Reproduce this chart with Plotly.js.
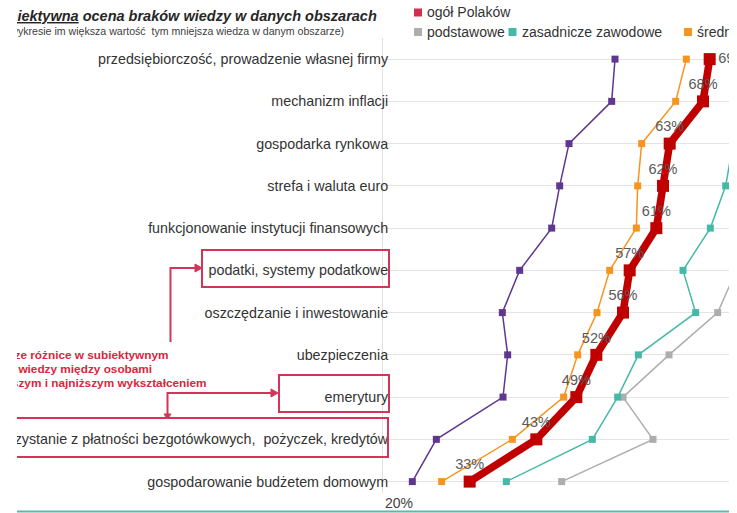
<!DOCTYPE html>
<html><head><meta charset="utf-8">
<script src="https://cdn.plot.ly/plotly-3.0.1.min.js"></script>
<style>
html,body{margin:0;padding:0;background:#fff;overflow:hidden}
#chart{width:737px;height:513px;clip-path:inset(0px 8px 0px 17px);}
</style></head><body><div id="chart"></div>
<script>
// ---- data ----
const categories = [
  'przedsiębiorczość, prowadzenie własnej firmy',
  'mechanizm inflacji',
  'gospodarka rynkowa',
  'strefa i waluta euro',
  'funkcjonowanie instytucji finansowych',
  'podatki, systemy podatkowe',
  'oszczędzanie i inwestowanie',
  'ubezpieczenia',
  'emerytury',
  'korzystanie z płatności bezgotówkowych,  pożyczek, kredytów',
  'gospodarowanie budżetem domowym'
];
const seriesNames = ['ogół Polaków', 'podstawowe', 'zasadnicze zawodowe', 'średnie', 'wyższe'];
const ogolPolakow        = [69, 68, 63, 62, 61, 57, 56, 52, 49, 43, 33];
const podstawowe         = [80, 79, 77, 76, 75, 73, 70.2, 62.9, 56.0, 60.5, 46.8];
const zasadniczeZawodowe = [75, 74, 72.5, 71.4, 69.1, 65.0, 66.9, 58.3, 55.2, 51.4, 38.5];
const srednie            = [65.5, 63.9, 58.8, 58.2, 58.0, 54.0, 52.1, 49.2, 47.1, 39.4, 28.8];
const wyzsze             = [54.8, 54.3, 47.9, 46.5, 45.3, 40.5, 37.9, 38.7, 38.0, 28.0, 24.4];
const ogolLabels = ogolPolakow.map(v => v + '%');
const xTickVals = [20];
const xTickText = ['20%'];
const titleText = 'Subiektywna';
const titleRest = 'ocena braków wiedzy w danych obszarach';
const subtitleText = '(na wykresie im większa wartość  tym mniejsza wiedza w danym obszarze)';
const noteLines = ['Największe różnice w subiektywnym', 'poziomie wiedzy między osobami', 'z najwyższym i najniższym wykształceniem'];

// ---- geometry (page px) ----
const W = 737, H = 513, L = 383, R = 729, T = 38, B = 493;
const xp = px => (px - L) / (R - L);
const yp = py => (B - py) / (B - T);
const FONT = 'Liberation Sans, Arial, sans-serif';

const colors = {
  ogol: '#C00000', podst: '#ADADAD', zasad: '#45B9A8', sred: '#F7941D', wyz: '#60378F',
  legendOgol: '#D12F4E', accent: '#D23558', note: '#D9263D', teal: '#5DB8AA'
};

function seriesTrace(vals, name, color, lw, ms) {
  return {
    type: 'scatter', mode: 'lines+markers', name: name,
    x: vals, y: categories,
    line: {color: color, width: lw},
    marker: {symbol: 'square', size: ms, color: color},
    cliponaxis: true, showlegend: false, hoverinfo: 'x+y+name'
  };
}

const traces = [
  seriesTrace(podstawowe, seriesNames[1], colors.podst, 1.5, 7),
  seriesTrace(zasadniczeZawodowe, seriesNames[2], colors.zasad, 1.5, 7),
  seriesTrace(wyzsze, seriesNames[4], colors.wyz, 1.5, 7),
  seriesTrace(srednie, seriesNames[3], colors.sred, 1.5, 7),
  Object.assign(seriesTrace(ogolPolakow, seriesNames[0], colors.ogol, 7.5, 12), {
    mode: 'lines+markers+text', text: ogolLabels,
    textposition: ogolLabels.map((t, i) => i === 0 ? 'middle right' : 'top center'),
    textfont: {family: FONT, size: 14.5, color: '#595959'}
  })
];

// ---- shapes ----
const shapes = [];
function rectPx(x0, y0, x1, y1, color, width) {
  shapes.push({type: 'rect', xref: 'paper', yref: 'paper', x0: xp(x0), x1: xp(x1), y0: yp(y1), y1: yp(y0),
    line: {color: color, width: width}, fillcolor: 'rgba(0,0,0,0)'});
}
function pathPx(pts, color, width, fill) {
  const d = pts.map((p, i) => (i ? 'L' : 'M') + xp(p[0]).toFixed(5) + ',' + yp(p[1]).toFixed(5)).join(' ') + (fill ? ' Z' : '');
  shapes.push({type: 'path', xref: 'paper', yref: 'paper', path: d,
    line: {color: color, width: width}, fillcolor: fill ? color : 'rgba(0,0,0,0)'});
}
// boxes
rectPx(202, 250, 389, 287, colors.accent, 2);
rectPx(279, 375, 389, 412, colors.accent, 2);
rectPx(-20, 418, 388, 457, colors.accent, 2);
// connectors
pathPx([[170.5, 342], [170.5, 268], [196, 268]], colors.accent, 2);
pathPx([[195, 264], [202, 268], [195, 272]], colors.accent, 1, true);
pathPx([[167.5, 416], [167.5, 393], [272, 393]], colors.accent, 2);
pathPx([[271, 389], [278, 393], [271, 397]], colors.accent, 1, true);
pathPx([[164, 414], [167.5, 419], [171, 414]], colors.accent, 1, true);
// bottom teal line
shapes.push({type: 'line', xref: 'paper', yref: 'paper', x0: xp(0), x1: xp(737), y0: yp(511.5), y1: yp(511.5),
  line: {color: colors.teal, width: 2}});

// ---- legend (manual, two rows) ----
const legendItems = [
  {name: seriesNames[0], color: colors.legendOgol, x: 418, y: 12.5},
  {name: seriesNames[1], color: colors.podst, x: 418, y: 32},
  {name: seriesNames[2], color: colors.zasad, x: 512.5, y: 32},
  {name: seriesNames[3], color: colors.sred, x: 688, y: 32},
  {name: seriesNames[4], color: colors.wyz, x: 760, y: 32}
];
const annotations = [];
legendItems.forEach(it => {
  shapes.push({type: 'rect', xref: 'paper', yref: 'paper', x0: xp(it.x - 4), x1: xp(it.x + 4),
    y0: yp(it.y + 4), y1: yp(it.y - 4), line: {width: 0}, fillcolor: it.color});
  annotations.push({xref: 'paper', yref: 'paper', x: xp(it.x + 7), y: yp(it.y), xanchor: 'left', yanchor: 'middle',
    text: it.name, showarrow: false, font: {family: FONT, size: 14, color: '#333333'}});
});

// title & subtitle
annotations.push({xref: 'paper', yref: 'paper', x: xp(-12), y: yp(16), xanchor: 'left', yanchor: 'middle', showarrow: false,
  text: '<b><i><u>' + titleText + '</u> ' + titleRest + '</i></b>', font: {family: FONT, size: 14.5, color: '#262626'}});
annotations.push({xref: 'paper', yref: 'paper', x: xp(-10), y: yp(31), xanchor: 'left', yanchor: 'middle', showarrow: false,
  text: subtitleText, font: {family: FONT, size: 10.6, color: '#404040'}});
// red note
noteLines.forEach((t, i) => {
  annotations.push({xref: 'paper', yref: 'paper', x: xp(-38), y: yp(355 + i * 14), xanchor: 'left', yanchor: 'middle', showarrow: false,
    text: '<b>' + t + '</b>', font: {family: FONT, size: 11.8, color: colors.note}});
});

const layout = {
  width: W, height: H,
  margin: {l: L, r: W - R, t: T, b: H - B, pad: 0},
  paper_bgcolor: '#ffffff', plot_bgcolor: '#ffffff',
  showlegend: false,
  font: {family: FONT, color: '#333333'},
  xaxis: {range: [20, 20 + (R - L) / 6.667], tickvals: xTickVals, ticktext: xTickText, showgrid: false, zeroline: false,
    showline: false, ticks: '', ticklabelshift: 16, tickfont: {family: FONT, size: 14, color: '#404040'}},
  yaxis: {type: 'category', categoryorder: 'array', categoryarray: categories,
    range: [(B - 59.2) / 42.24, -0.5], showgrid: true, gridcolor: '#E4E4E4', gridwidth: 1,
    showline: true, linecolor: '#E0E0E0', linewidth: 1, ticks: '', ticklabelstandoff: -9,
    tickfont: {family: FONT, size: 14.3, color: '#333333'}, zeroline: false},
  shapes: shapes, annotations: annotations
};

Plotly.newPlot('chart', traces, layout, {displayModeBar: false, staticPlot: true});
</script></body></html>
